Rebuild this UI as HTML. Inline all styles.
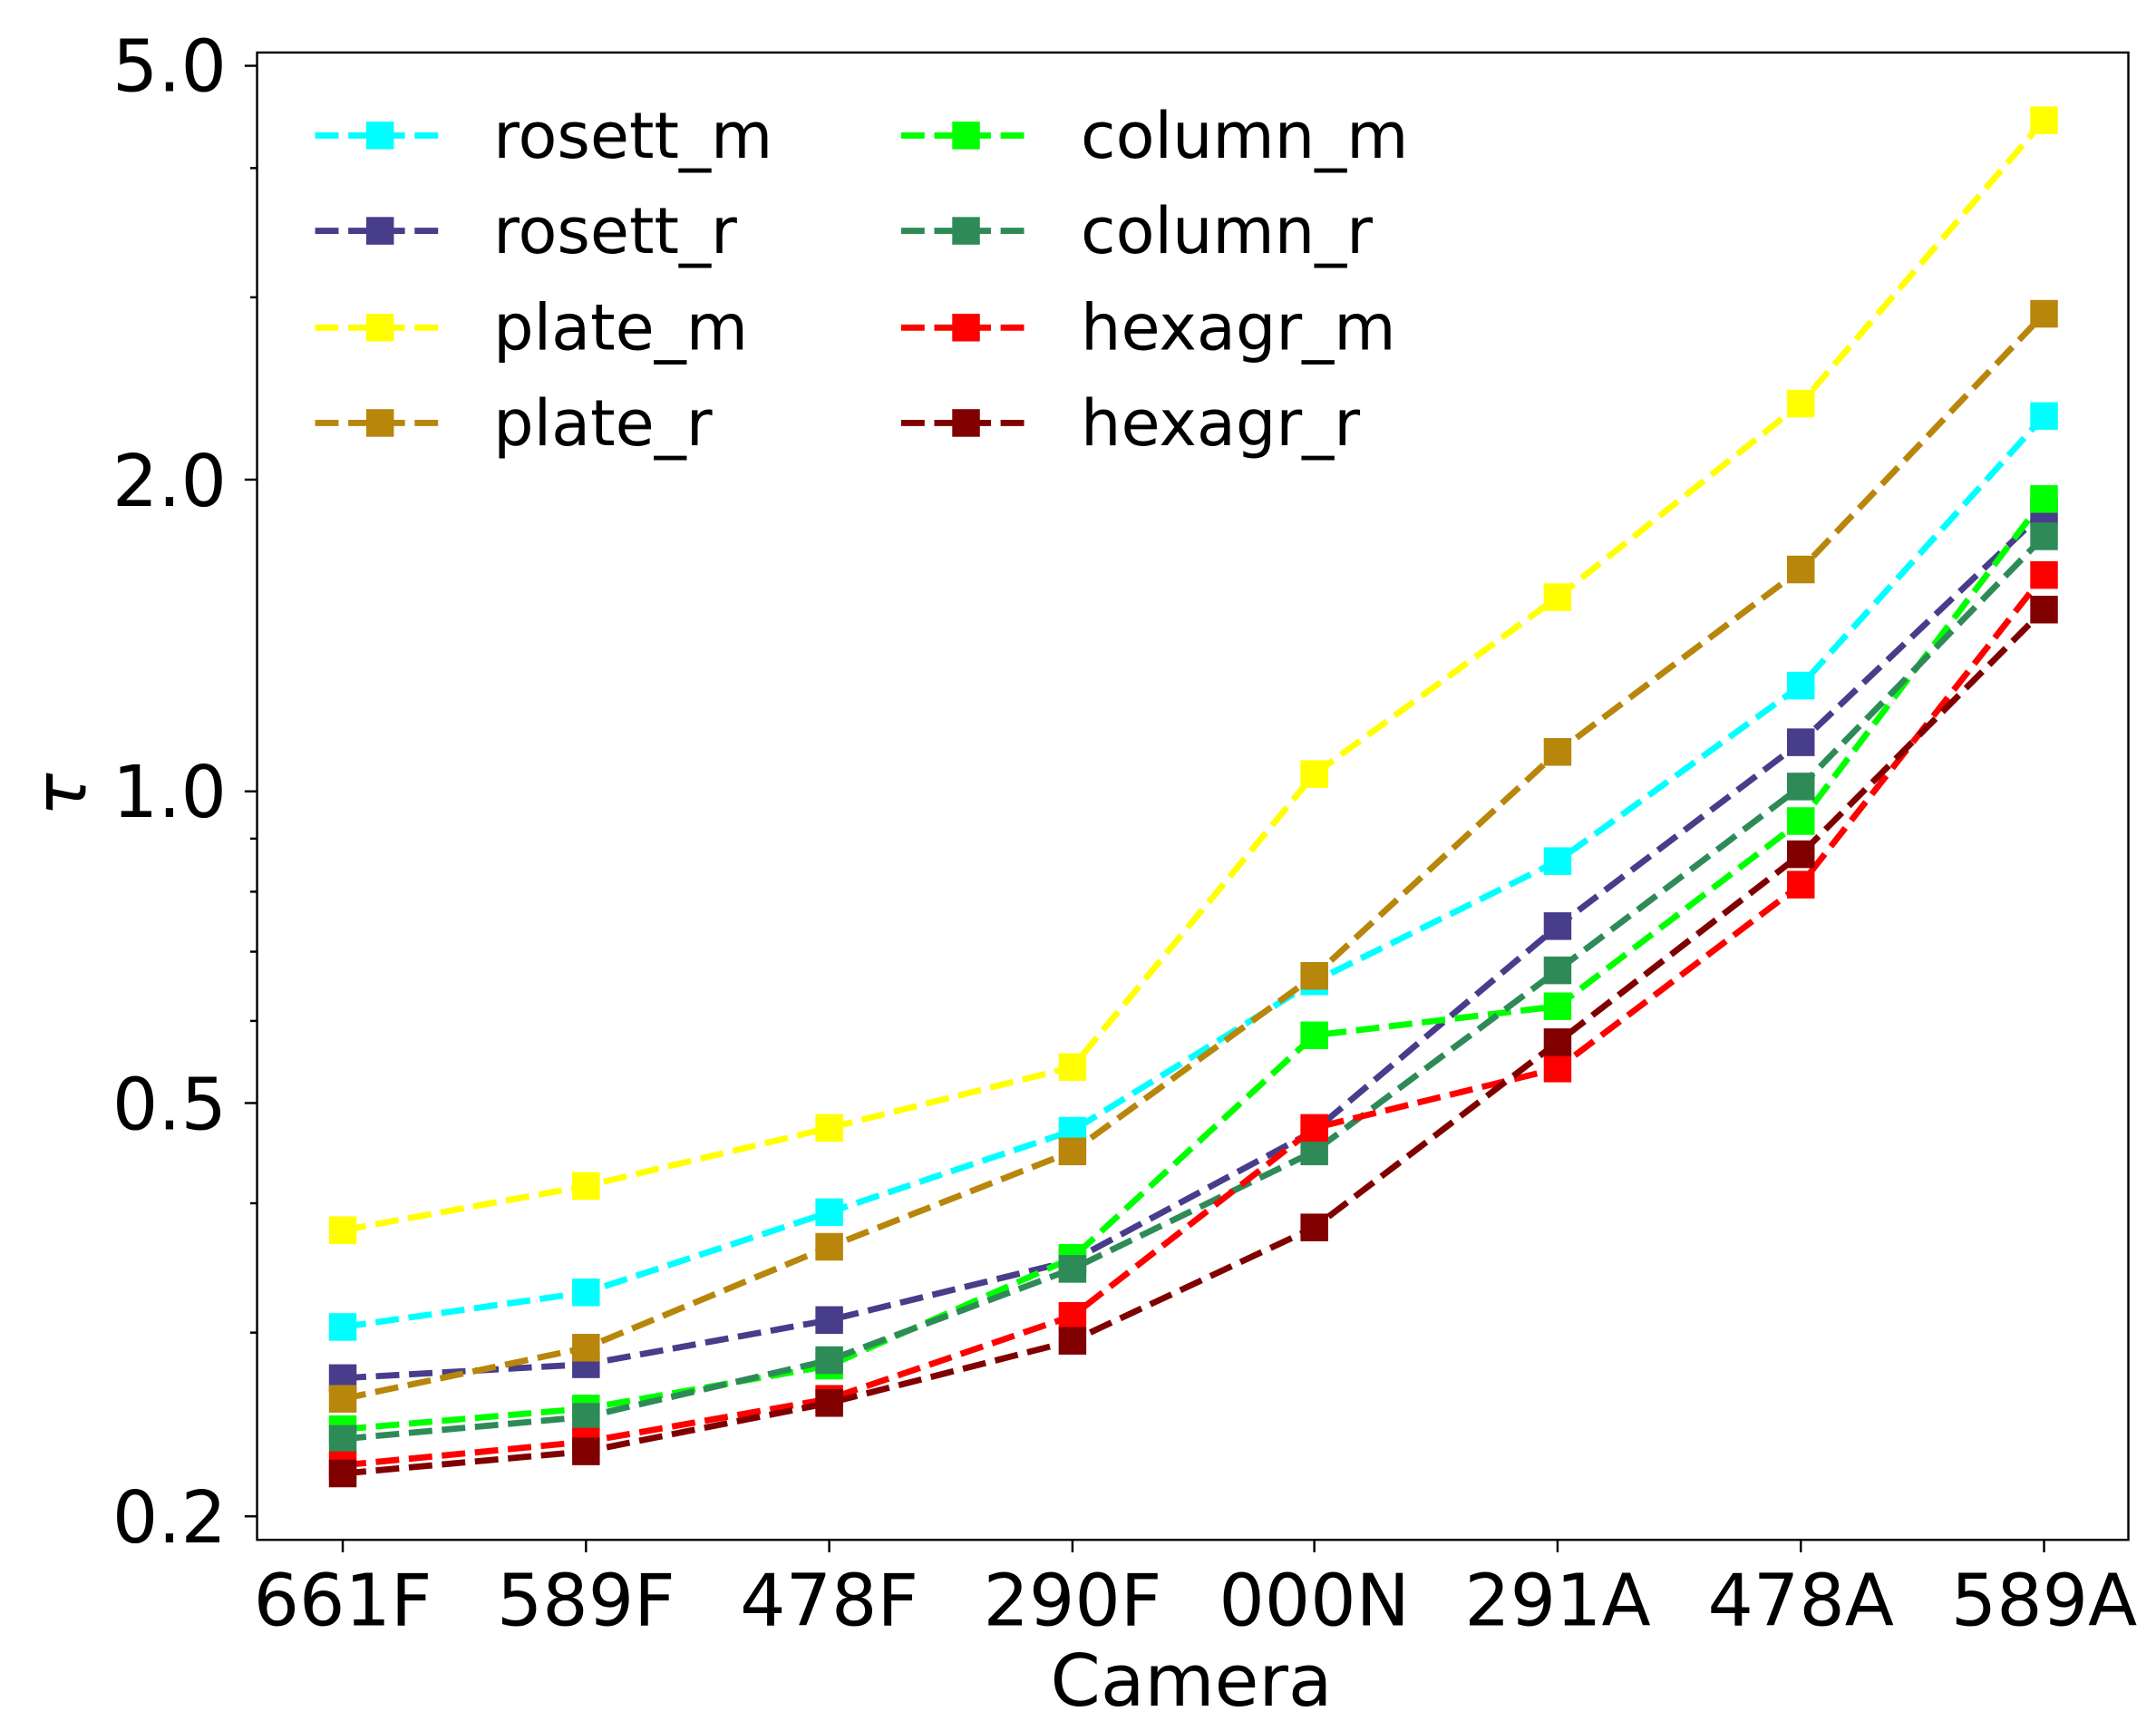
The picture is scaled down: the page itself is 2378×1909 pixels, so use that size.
<!DOCTYPE html>
<html><head><style>html,body{margin:0;padding:0;background:#fff}svg{display:block}</style></head>
<body>
<svg width="2378" height="1909" viewBox="0 0 1560 1252.3" preserveAspectRatio="none" xmlns="http://www.w3.org/2000/svg" font-family="DejaVu Sans, Liberation Sans, sans-serif">
<rect width="1560" height="1253" fill="#fff"/>
<g stroke="#000" stroke-width="1.6">
<line x1="186" y1="47.6" x2="177" y2="47.6"/><line x1="186" y1="347" x2="177" y2="347"/><line x1="186" y1="572.5" x2="177" y2="572.5"/><line x1="186" y1="798" x2="177" y2="798"/><line x1="186" y1="1097" x2="177" y2="1097"/>
<line x1="186" y1="121.6" x2="181" y2="121.6"/><line x1="186" y1="215.1" x2="181" y2="215.1"/><line x1="186" y1="606.7" x2="181" y2="606.7"/><line x1="186" y1="645.1" x2="181" y2="645.1"/><line x1="186" y1="688.5" x2="181" y2="688.5"/><line x1="186" y1="738.6" x2="181" y2="738.6"/><line x1="186" y1="870.5" x2="181" y2="870.5"/><line x1="186" y1="964.1" x2="181" y2="964.1"/>
<line x1="248" y1="1114" x2="248" y2="1123"/><line x1="424" y1="1114" x2="424" y2="1123"/><line x1="600" y1="1114" x2="600" y2="1123"/><line x1="776" y1="1114" x2="776" y2="1123"/><line x1="951" y1="1114" x2="951" y2="1123"/><line x1="1127" y1="1114" x2="1127" y2="1123"/><line x1="1303" y1="1114" x2="1303" y2="1123"/><line x1="1479" y1="1114" x2="1479" y2="1123"/>
</g>
<g font-size="52" fill="#000" text-anchor="end">
<text x="164" y="66">5.0</text><text x="164" y="366">2.0</text><text x="164" y="591">1.0</text><text x="164" y="817">0.5</text><text x="164" y="1116">0.2</text>
</g>
<g font-size="52" fill="#000" text-anchor="middle">
<text x="248" y="1176">661F</text><text x="424" y="1176">589F</text><text x="600" y="1176">478F</text><text x="776" y="1176">290F</text><text x="951" y="1176">000N</text><text x="1127" y="1176">291A</text><text x="1303" y="1176">478A</text><text x="1479" y="1176">589A</text>
<text x="862" y="1234">Camera</text>
<text x="0" y="0" font-style="italic" transform="translate(62,575) rotate(-90)">τ</text>
</g>
<defs>
<g id="m"><rect x="-10" y="-10" width="20" height="20"/></g>
</defs>
<g fill="none" stroke-width="4.5" stroke-dasharray="17,7">
<polyline stroke="#00FFFF" points="248,960 424,935 600,877 776,818 951,710 1127,623 1303,496 1479,301"/>
<polyline stroke="#483D8B" points="248,997 424,987 600,955 776,912 951,818 1127,670 1303,537 1479,370"/>
<polyline stroke="#FFFF00" points="248,890 424,858 600,816 776,772 951,560 1127,432 1303,292 1479,87"/>
<polyline stroke="#B8860B" points="248,1012 424,975 600,902 776,833 951,706 1127,544 1303,412 1479,227"/>
<polyline stroke="#00FF00" points="248,1034 424,1019 600,988 776,910 951,749 1127,728 1303,594 1479,361"/>
<polyline stroke="#2E8B57" points="248,1041 424,1025 600,984 776,918 951,833 1127,702 1303,569 1479,388"/>
<polyline stroke="#FF0000" points="248,1060 424,1043 600,1012 776,952 951,816 1127,773 1303,640 1479,416"/>
<polyline stroke="#800000" points="248,1066 424,1050 600,1015 776,970 951,888 1127,754 1303,618 1479,441"/>
</g>
<g fill="#00FFFF"><use href="#m" x="248" y="960"/><use href="#m" x="424" y="935"/><use href="#m" x="600" y="877"/><use href="#m" x="776" y="818"/><use href="#m" x="951" y="710"/><use href="#m" x="1127" y="623"/><use href="#m" x="1303" y="496"/><use href="#m" x="1479" y="301"/></g>
<g fill="#483D8B"><use href="#m" x="248" y="997"/><use href="#m" x="424" y="987"/><use href="#m" x="600" y="955"/><use href="#m" x="776" y="912"/><use href="#m" x="951" y="818"/><use href="#m" x="1127" y="670"/><use href="#m" x="1303" y="537"/><use href="#m" x="1479" y="370"/></g>
<g fill="#FFFF00"><use href="#m" x="248" y="890"/><use href="#m" x="424" y="858"/><use href="#m" x="600" y="816"/><use href="#m" x="776" y="772"/><use href="#m" x="951" y="560"/><use href="#m" x="1127" y="432"/><use href="#m" x="1303" y="292"/><use href="#m" x="1479" y="87"/></g>
<g fill="#B8860B"><use href="#m" x="248" y="1012"/><use href="#m" x="424" y="975"/><use href="#m" x="600" y="902"/><use href="#m" x="776" y="833"/><use href="#m" x="951" y="706"/><use href="#m" x="1127" y="544"/><use href="#m" x="1303" y="412"/><use href="#m" x="1479" y="227"/></g>
<g fill="#00FF00"><use href="#m" x="248" y="1034"/><use href="#m" x="424" y="1019"/><use href="#m" x="600" y="988"/><use href="#m" x="776" y="910"/><use href="#m" x="951" y="749"/><use href="#m" x="1127" y="728"/><use href="#m" x="1303" y="594"/><use href="#m" x="1479" y="361"/></g>
<g fill="#2E8B57"><use href="#m" x="248" y="1041"/><use href="#m" x="424" y="1025"/><use href="#m" x="600" y="984"/><use href="#m" x="776" y="918"/><use href="#m" x="951" y="833"/><use href="#m" x="1127" y="702"/><use href="#m" x="1303" y="569"/><use href="#m" x="1479" y="388"/></g>
<g fill="#FF0000"><use href="#m" x="248" y="1060"/><use href="#m" x="424" y="1043"/><use href="#m" x="600" y="1012"/><use href="#m" x="776" y="952"/><use href="#m" x="951" y="816"/><use href="#m" x="1127" y="773"/><use href="#m" x="1303" y="640"/><use href="#m" x="1479" y="416"/></g>
<g fill="#800000"><use href="#m" x="248" y="1066"/><use href="#m" x="424" y="1050"/><use href="#m" x="600" y="1015"/><use href="#m" x="776" y="970"/><use href="#m" x="951" y="888"/><use href="#m" x="1127" y="754"/><use href="#m" x="1303" y="618"/><use href="#m" x="1479" y="441"/></g>
<!-- legend -->
<g stroke-width="4.5" stroke-dasharray="17,7">
<line x1="228" y1="98" x2="322" y2="98" stroke="#00FFFF"/><line x1="228" y1="167" x2="322" y2="167" stroke="#483D8B"/><line x1="228" y1="237" x2="322" y2="237" stroke="#FFFF00"/><line x1="228" y1="306" x2="322" y2="306" stroke="#B8860B"/>
<line x1="652" y1="98" x2="746" y2="98" stroke="#00FF00"/><line x1="652" y1="167" x2="746" y2="167" stroke="#2E8B57"/><line x1="652" y1="237" x2="746" y2="237" stroke="#FF0000"/><line x1="652" y1="306" x2="746" y2="306" stroke="#800000"/>
</g>
<use href="#m" x="275" y="98" fill="#00FFFF"/><use href="#m" x="275" y="167" fill="#483D8B"/><use href="#m" x="275" y="237" fill="#FFFF00"/><use href="#m" x="275" y="306" fill="#B8860B"/>
<use href="#m" x="699" y="98" fill="#00FF00"/><use href="#m" x="699" y="167" fill="#2E8B57"/><use href="#m" x="699" y="237" fill="#FF0000"/><use href="#m" x="699" y="306" fill="#800000"/>
<g font-size="46" fill="#000">
<text x="357" y="114">rosett_m</text><text x="357" y="183">rosett_r</text><text x="357" y="253">plate_m</text><text x="357" y="322">plate_r</text>
<text x="782" y="114">column_m</text><text x="782" y="183">column_r</text><text x="782" y="253">hexagr_m</text><text x="782" y="322">hexagr_r</text>
</g>
<rect x="186" y="38" width="1354" height="1076" fill="none" stroke="#000" stroke-width="1.6"/>
</svg>
</body></html>
